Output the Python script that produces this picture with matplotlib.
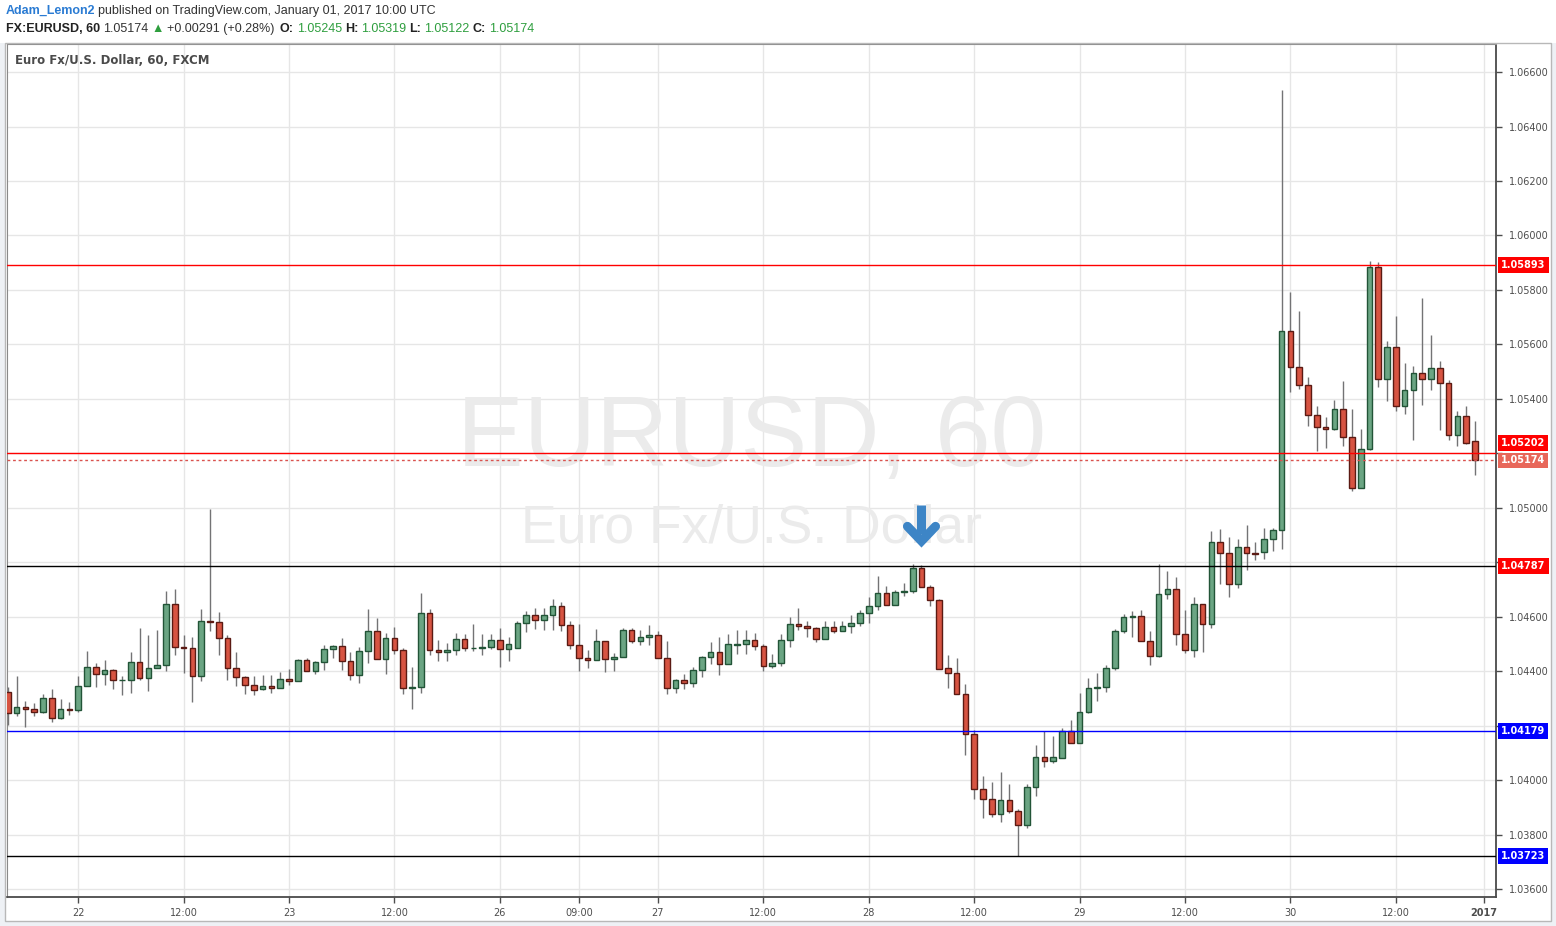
import numpy as np
import matplotlib.pyplot as plt
from matplotlib.patches import Rectangle
from matplotlib.transforms import blended_transform_factory

# EURUSD 60 min candles (FXCM), Dec 21 16:00 -> Dec 30 21:00
opens = [1.04322, 1.04246, 1.04270, 1.04261, 1.04250, 1.04301, 1.04228, 1.04262, 1.04257, 1.04345,
         1.04415, 1.04389, 1.04404, 1.04367, 1.04367, 1.04433, 1.04374, 1.04411, 1.04422, 1.04647,
         1.04490, 1.04485, 1.04382, 1.04584, 1.04580, 1.04521, 1.04413, 1.04377, 1.04348, 1.04334,
         1.04345, 1.04337, 1.04371, 1.04363, 1.04440, 1.04400, 1.04433, 1.04481, 1.04492, 1.04437,
         1.04385, 1.04474, 1.04547, 1.04444, 1.04522, 1.04478, 1.04337, 1.04342, 1.04615, 1.04478,
         1.04470, 1.04478, 1.04519, 1.04484, 1.04484, 1.04489, 1.04515, 1.04481, 1.04484, 1.04578,
         1.04607, 1.04589, 1.04607, 1.04641, 1.04570, 1.04496, 1.04449, 1.04441, 1.04511, 1.04444,
         1.04452, 1.04552, 1.04510, 1.04526, 1.04533, 1.04448, 1.04337, 1.04367, 1.04356, 1.04404,
         1.04452, 1.04470, 1.04426, 1.04498, 1.04500, 1.04516, 1.04493, 1.04419, 1.04430, 1.04515,
         1.04574, 1.04567, 1.04559, 1.04519, 1.04563, 1.04548, 1.04567, 1.04578, 1.04612, 1.04638,
         1.04686, 1.04642, 1.04690, 1.04693, 1.04778, 1.04708, 1.04660, 1.04410, 1.04392, 1.04315,
         1.04168, 1.03966, 1.03929, 1.03874, 1.03927, 1.03887, 1.03835, 1.03976, 1.04086, 1.04070,
         1.04083, 1.04181, 1.04136, 1.04250, 1.04338, 1.04341, 1.04411, 1.04546, 1.04599, 1.04604,
         1.04511, 1.04456, 1.04683, 1.04701, 1.04537, 1.04478, 1.04646, 1.04573, 1.04873, 1.04833,
         1.04720, 1.04855, 1.04833, 1.04838, 1.04885, 1.04917, 1.05651, 1.05516, 1.05450, 1.05341,
         1.05297, 1.05290, 1.05363, 1.05261, 1.05071, 1.05217, 1.05885, 1.05474, 1.05590, 1.05373,
         1.05432, 1.05494, 1.05472, 1.05513, 1.05458, 1.05266, 1.05336, 1.05245]
highs = [1.04343, 1.04383, 1.04292, 1.04284, 1.04317, 1.04336, 1.04299, 1.04288, 1.04383, 1.04475,
         1.04431, 1.04442, 1.04408, 1.04383, 1.04471, 1.04560, 1.04534, 1.04552, 1.04696, 1.04703,
         1.04534, 1.04526, 1.04629, 1.04994, 1.04618, 1.04532, 1.04471, 1.04383, 1.04383, 1.04387,
         1.04387, 1.04398, 1.04407, 1.04444, 1.04449, 1.04437, 1.04497, 1.04497, 1.04523, 1.04471,
         1.04490, 1.04629, 1.04596, 1.04540, 1.04564, 1.04486, 1.04416, 1.04686, 1.04630, 1.04516,
         1.04505, 1.04542, 1.04538, 1.04572, 1.04538, 1.04535, 1.04560, 1.04526, 1.04586, 1.04620,
         1.04633, 1.04633, 1.04664, 1.04653, 1.04583, 1.04572, 1.04479, 1.04554, 1.04511, 1.04468,
         1.04560, 1.04560, 1.04553, 1.04568, 1.04549, 1.04512, 1.04372, 1.04390, 1.04416, 1.04457,
         1.04506, 1.04527, 1.04535, 1.04553, 1.04553, 1.04542, 1.04501, 1.04463, 1.04537, 1.04598,
         1.04631, 1.04586, 1.04563, 1.04583, 1.04583, 1.04583, 1.04605, 1.04623, 1.04672, 1.04748,
         1.04713, 1.04698, 1.04724, 1.04794, 1.04789, 1.04715, 1.04666, 1.04459, 1.04448, 1.04353,
         1.04183, 1.04015, 1.03995, 1.04029, 1.03987, 1.03894, 1.03987, 1.04130, 1.04181, 1.04163,
         1.04191, 1.04222, 1.04321, 1.04376, 1.04394, 1.04423, 1.04555, 1.04610, 1.04622, 1.04626,
         1.04549, 1.04793, 1.04768, 1.04746, 1.04626, 1.04673, 1.04646, 1.04915, 1.04922, 1.04893,
         1.04885, 1.04937, 1.04875, 1.04925, 1.04925, 1.06534, 1.05791, 1.05722, 1.05481, 1.05375,
         1.05335, 1.05397, 1.05466, 1.05364, 1.05288, 1.05906, 1.05904, 1.05614, 1.05706, 1.05533,
         1.05521, 1.05772, 1.05636, 1.05540, 1.05470, 1.05356, 1.05374, 1.05319]
lows = [1.04203, 1.04234, 1.04194, 1.04234, 1.04248, 1.04212, 1.04226, 1.04240, 1.04252, 1.04345,
        1.04343, 1.04348, 1.04333, 1.04311, 1.04321, 1.04368, 1.04328, 1.04411, 1.04401, 1.04458,
        1.04395, 1.04288, 1.04364, 1.04548, 1.04458, 1.04369, 1.04344, 1.04318, 1.04314, 1.04331,
        1.04321, 1.04337, 1.04351, 1.04363, 1.04400, 1.04391, 1.04405, 1.04449, 1.04405, 1.04369,
        1.04355, 1.04432, 1.04444, 1.04391, 1.04465, 1.04315, 1.04262, 1.04321, 1.04458, 1.04436,
        1.04436, 1.04458, 1.04474, 1.04473, 1.04460, 1.04481, 1.04417, 1.04436, 1.04484, 1.04543,
        1.04554, 1.04551, 1.04551, 1.04547, 1.04480, 1.04402, 1.04410, 1.04440, 1.04396, 1.04402,
        1.04452, 1.04502, 1.04498, 1.04498, 1.04448, 1.04317, 1.04321, 1.04336, 1.04343, 1.04380,
        1.04428, 1.04386, 1.04426, 1.04465, 1.04462, 1.04477, 1.04400, 1.04410, 1.04419, 1.04488,
        1.04552, 1.04527, 1.04506, 1.04519, 1.04541, 1.04548, 1.04541, 1.04567, 1.04578, 1.04623,
        1.04642, 1.04642, 1.04677, 1.04689, 1.04708, 1.04640, 1.04407, 1.04339, 1.04315, 1.04092,
        1.03931, 1.03862, 1.03864, 1.03847, 1.03878, 1.03723, 1.03823, 1.03941, 1.04050, 1.04062,
        1.04080, 1.04136, 1.04136, 1.04245, 1.04289, 1.04322, 1.04405, 1.04540, 1.04524, 1.04510,
        1.04422, 1.04451, 1.04665, 1.04495, 1.04466, 1.04451, 1.04470, 1.04557, 1.04722, 1.04671,
        1.04704, 1.04773, 1.04808, 1.04813, 1.04840, 1.04847, 1.05424, 1.05438, 1.05300, 1.05209,
        1.05219, 1.05285, 1.05227, 1.05063, 1.05071, 1.05211, 1.05442, 1.05394, 1.05357, 1.05346,
        1.05250, 1.05379, 1.05431, 1.05287, 1.05250, 1.05228, 1.05236, 1.05122]
closes = [1.04246, 1.04268, 1.04260, 1.04250, 1.04301, 1.04228, 1.04261, 1.04257, 1.04345, 1.04415,
          1.04389, 1.04404, 1.04367, 1.04369, 1.04433, 1.04374, 1.04411, 1.04422, 1.04647, 1.04490,
          1.04485, 1.04382, 1.04584, 1.04579, 1.04521, 1.04413, 1.04377, 1.04348, 1.04332, 1.04345,
          1.04337, 1.04371, 1.04363, 1.04440, 1.04400, 1.04433, 1.04481, 1.04492, 1.04437, 1.04385,
          1.04474, 1.04547, 1.04444, 1.04522, 1.04478, 1.04337, 1.04342, 1.04615, 1.04478, 1.04470,
          1.04478, 1.04519, 1.04485, 1.04486, 1.04489, 1.04515, 1.04481, 1.04500, 1.04578, 1.04607,
          1.04589, 1.04607, 1.04641, 1.04569, 1.04496, 1.04448, 1.04441, 1.04511, 1.04444, 1.04453,
          1.04552, 1.04510, 1.04526, 1.04533, 1.04448, 1.04337, 1.04367, 1.04356, 1.04404, 1.04452,
          1.04470, 1.04426, 1.04500, 1.04500, 1.04516, 1.04493, 1.04419, 1.04430, 1.04515, 1.04574,
          1.04567, 1.04559, 1.04519, 1.04563, 1.04548, 1.04567, 1.04578, 1.04612, 1.04638, 1.04688,
          1.04642, 1.04690, 1.04693, 1.04778, 1.04708, 1.04660, 1.04409, 1.04392, 1.04315, 1.04168,
          1.03966, 1.03929, 1.03874, 1.03926, 1.03887, 1.03835, 1.03976, 1.04086, 1.04070, 1.04086,
          1.04181, 1.04136, 1.04251, 1.04338, 1.04341, 1.04411, 1.04546, 1.04600, 1.04604, 1.04510,
          1.04456, 1.04683, 1.04701, 1.04537, 1.04478, 1.04646, 1.04573, 1.04873, 1.04833, 1.04720,
          1.04855, 1.04833, 1.04829, 1.04885, 1.04918, 1.05651, 1.05516, 1.05450, 1.05341, 1.05297,
          1.05290, 1.05363, 1.05261, 1.05071, 1.05217, 1.05885, 1.05474, 1.05590, 1.05373, 1.05432,
          1.05494, 1.05472, 1.05513, 1.05458, 1.05266, 1.05336, 1.05239, 1.05174]

# time axis labels (candle index -> label)
time_ticks = [8, 20, 32, 44, 56, 65, 74, 86, 98, 110, 122, 134, 146, 158, 168]
time_labels = ['22', '12:00', '23', '12:00', '26', '09:00', '27', '12:00',
               '28', '12:00', '29', '12:00', '30', '12:00', '2017']

# drawn horizontal levels
levels = [1.05893, 1.05202, 1.04787, 1.04179, 1.03723]
level_colors = ['#ff0000', '#ff0000', '#000000', '#0000ff', '#000000']
# price-scale tags: text, where the tag sits, colour
tag_texts = ['1.05893', '1.05202', '1.05174', '1.04787', '1.04179', '1.03723']
tag_prices = [1.05893, 1.05238, 1.05174, 1.04787, 1.04179, 1.03723]
tag_colors = ['#ff0000', '#ff0000', '#e8675a', '#ff0000', '#0000ff', '#0000ff']
last_price = 1.05174
hidden_ticks = ['1.04200', '1.04800', '1.05200']  # covered by tags

arrow_idx = 104
arrow_top, arrow_tip = 1.05012, 1.04878

W, H = 1556, 926
fig = plt.figure(figsize=(W / 100, H / 100), dpi=100)
fig.patch.set_facecolor('white')

def fx(x):
    return x / W

def fy(y):
    return 1 - y / H

# light page margins around the chart container
for (x0, y0, x1, y1) in [(0, 43, 5, 926), (1551, 43, 1556, 926), (0, 921, 1556, 926)]:
    fig.patches.append(Rectangle((fx(x0), fy(y1)), fx(x1 - x0), (y1 - y0) / H,
                                 transform=fig.transFigure, fc='#eef1f5', ec='none', zorder=0))
fig.patches.append(Rectangle((fx(5), fy(921)), fx(1546), 878 / H, transform=fig.transFigure,
                             fc='none', ec='#b8b8b8', lw=1, zorder=1))

ax = fig.add_axes([fx(7), fy(897), fx(1489), 853 / H])
ax.set_facecolor('white')

idx = np.arange(len(opens))
o = np.array(opens)
c = np.array(closes)
up = c >= o

# wicks
ax.vlines(idx, lows, highs, color='#737375', lw=1, zorder=3)
# bodies
bottom = np.minimum(o, c)
height = np.abs(c - o)
ax.bar(idx[up], height[up], bottom=bottom[up], width=0.64, color='#6ba583',
       edgecolor='#225437', linewidth=1, zorder=4)
ax.bar(idx[~up], height[~up], bottom=bottom[~up], width=0.64, color='#d75442',
       edgecolor='#5b1a13', linewidth=1, zorder=4)

# horizontal levels
for lv, col in zip(levels, level_colors):
    ax.axhline(lv, color=col, lw=1, zorder=5)
ax.axhline(last_price, color='#d9534f', lw=1, ls=(0, (2, 2)), zorder=5)

# watermark
ax.text(0.5, 0.536, 'EURUSD, 60', transform=ax.transAxes, ha='center', va='center',
        fontsize=72, color='#ebebeb', family='Liberation Sans', zorder=1)
ax.text(0.5, 0.432, 'Euro Fx/U.S. Dollar', transform=ax.transAxes, ha='center', va='center',
        fontsize=38.5, color='#ebebeb', family='Liberation Sans', zorder=1)

ax.text(0.0055, 0.981, 'Euro Fx/U.S. Dollar, 60, FXCM', transform=ax.transAxes,
        ha='left', va='center', fontsize=8.5, fontweight='bold', color='#4a4a4a', zorder=6)

# blue down arrow marker
acol = '#3d85c6'
ax.plot([arrow_idx, arrow_idx], [arrow_top, arrow_tip + 0.00025], color=acol, lw=6.5,
        solid_capstyle='butt', zorder=6)
ax.plot([arrow_idx - 1.6, arrow_idx, arrow_idx + 1.6],
        [arrow_tip + 0.00054, arrow_tip, arrow_tip + 0.00054], color=acol, lw=6.5,
        solid_capstyle='round', solid_joinstyle='miter', zorder=6)

# axes, grid
ax.set_xlim(-0.1, 169.4)
ax.set_ylim(1.03571, 1.06703)
yt = np.arange(1.036, 1.0661, 0.002)
ax.set_yticks(yt)
ax.set_yticklabels(['' if ('%.5f' % v) in hidden_ticks else '%.5f' % v for v in yt])
ax.yaxis.tick_right()
ax.set_xticks(time_ticks)
ax.set_xticklabels(time_labels)
for lab in ax.get_xticklabels():
    if lab.get_text() == '2017':
        lab.set_fontweight('bold')
ax.tick_params(axis='y', labelsize=7, colors='#4d4d4d', length=4, pad=5, width=1)
ax.tick_params(axis='x', labelsize=7, colors='#4d4d4d', length=4, pad=4, width=1)
ax.grid(True, color='#e6e6e6', lw=1, zorder=0)
ax.set_axisbelow(True)
for side in ['left', 'top']:
    ax.spines[side].set_color('#8a8a8a')
for side in ['right', 'bottom']:
    ax.spines[side].set_color('#4a4a4a')
    ax.spines[side].set_linewidth(1.3)

# price scale tags
tr = blended_transform_factory(ax.transAxes, ax.transData)
for txt, p, col in zip(tag_texts, tag_prices, tag_colors):
    ax.text(1.0035, p, txt, transform=tr, ha='left', va='center', fontsize=7,
            fontweight='bold', color='white', clip_on=False, zorder=10,
            bbox=dict(boxstyle='square,pad=0.3', fc=col, ec='none'))

# header, pieces laid out left to right
renderer = fig.canvas.get_renderer()
hdr = dict(fontsize=9, va='center', family='Liberation Sans')

def row(pieces, y):
    end = 0
    for x, s, col, wt in pieces:
        x = max(x, end + 3)
        t = fig.text(fx(x), fy(y), s, color=col, fontweight=wt, **hdr)
        end = t.get_window_extent(renderer).x1

row([(6, 'Adam_Lemon2', '#2a7bd3', 'bold'),
     (97, 'published on TradingView.com, January 01, 2017 10:00 UTC', '#333333', 'normal')], 11)
row([(6, 'FX:EURUSD, 60', '#222222', 'bold'), (103, '1.05174', '#333333', 'normal'),
     (150, '\u25b2', '#2e9e3e', 'normal'), (163, '+0.00291 (+0.28%)', '#333333', 'normal'),
     (280, 'O:', '#222222', 'bold'), (293, '1.05245', '#2e9e3e', 'normal'),
     (344, 'H:', '#222222', 'bold'), (358, '1.05319', '#2e9e3e', 'normal'),
     (409, 'L:', '#222222', 'bold'), (419, '1.05122', '#2e9e3e', 'normal'),
     (470, 'C:', '#222222', 'bold'), (484, '1.05174', '#2e9e3e', 'normal')], 29)

fig.savefig('out.png', dpi=100, facecolor='white')
